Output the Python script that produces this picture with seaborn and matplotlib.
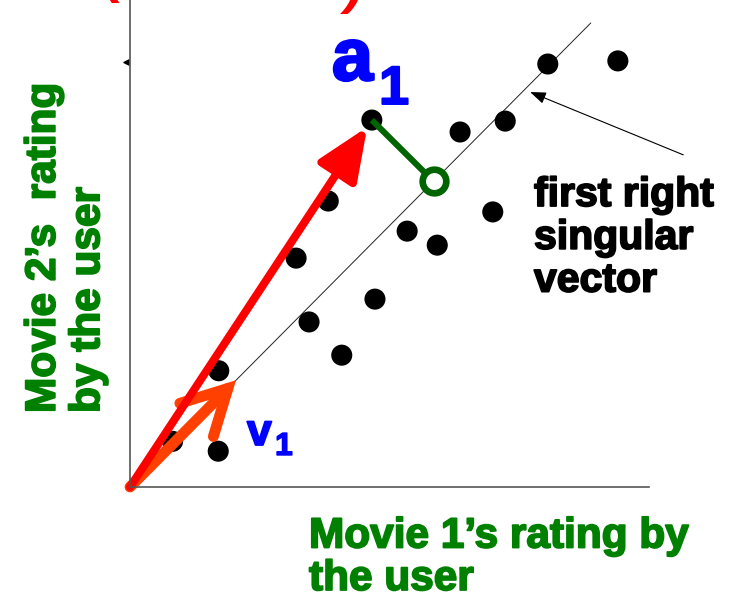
import numpy as np
import pandas as pd
import matplotlib
matplotlib.use("Agg")
import matplotlib.pyplot as plt
import matplotlib.patheffects as pe
from matplotlib.patches import FancyArrowPatch
import seaborn as sns

# Ratings given by users to movie 1 (x) and movie 2 (y)
movie1 = [8.05, 9.40, 4.66, 6.36, 7.23, 3.82, 6.99, 5.34, 5.92, 3.20,
          4.72, 3.45, 4.08, 1.71, 1.70, 0.82]
movie2 = [8.15, 8.21, 7.07, 6.84, 7.05, 5.51, 5.30, 4.93, 4.66, 4.41,
          3.62, 3.18, 2.54, 2.24, 0.69, 0.88]
edge_point = (-0.08, 8.19)

# Direction of the first right singular vector (degrees) and lengths
v1_angle = 45.2
v1_length = 2.9
line_length = 12.6
a1_index = 2          # the user whose rating vector is highlighted

sns.set_theme(style="white")
plt.rcParams["font.family"] = ["Liberation Sans", "DejaVu Sans"]

W, H = 729, 600
fig = plt.figure(figsize=(W / 100, H / 100), dpi=100)
ax = fig.add_axes([130 / W, (H - 487) / H, (649 - 130) / W, 487 / H])
ax.set_xlim(0, 10)
ax.set_ylim(0, 487 / 51.9)
ax.set_xticks([])
ax.set_yticks([])
for side in ("top", "right"):
    ax.spines[side].set_visible(False)
for side in ("left", "bottom"):
    ax.spines[side].set_color("#555555")
    ax.spines[side].set_linewidth(1.2)
    ax.spines[side].set_zorder(6)

df = pd.DataFrame({"movie1": movie1, "movie2": movie2})

u = np.array([np.cos(np.radians(v1_angle)), np.sin(np.radians(v1_angle))])

# singular-vector line through the origin
line_end = u * line_length
ax.plot([0, line_end[0]], [0, line_end[1]], color="#222222", lw=0.7,
        zorder=1, clip_on=False)

sns.scatterplot(data=df, x="movie1", y="movie2", ax=ax, color="black",
                s=230, edgecolor="none", zorder=2, legend=False)
ax.scatter([edge_point[0]], [edge_point[1]], s=14, color="black",
           marker="<", clip_on=False, zorder=2)
ax.set_xlabel("")
ax.set_ylabel("")

a1 = np.array([movie1[a1_index], movie2[a1_index]])
foot = u * (a1 @ u)

# projection of a1 onto the line
ax.plot([a1[0], foot[0]], [a1[1], foot[1]], color="#006400", lw=4.4,
        solid_capstyle="butt", zorder=3)
ax.plot([foot[0]], [foot[1]], marker="o", ms=17, mfc="white",
        mec="#006400", mew=4.8, zorder=4)

# v1 vector
v1 = u * v1_length
orange = FancyArrowPatch((0, 0), tuple(v1), arrowstyle="->,head_length=1.6,head_width=0.85",
                         mutation_scale=20, color="#ff4000", lw=7.8, shrinkA=0, shrinkB=0,
                         zorder=5, capstyle="round", joinstyle="miter", clip_on=False)
ax.add_patch(orange)

# a1 vector
red = FancyArrowPatch((0, 0), tuple(a1), arrowstyle="-|>,head_length=1.6,head_width=0.68",
                      mutation_scale=20, color="#ff0000", lw=5.8, shrinkA=0, shrinkB=6,
                      zorder=6, clip_on=False)
ax.add_patch(red)

# pointer to the singular-vector line
ax.annotate("", xy=(7.71, 7.61), xytext=(10.66, 6.40),
            arrowprops=dict(arrowstyle="-|>,head_length=0.8,head_width=0.3",
                            color="black", lw=0.8, shrinkA=0, shrinkB=0,
                            mutation_scale=12),
            annotation_clip=False)

green = "#008000"
blue = "#0000ff"


def fx(px):
    return px / W


def fy(py):
    return 1 - py / H


def heavy(color, w=1.3):
    return [pe.withStroke(linewidth=w, foreground=color)]


fig.text(fx(534), fy(176), "first right\nsingular\nvector", ha="left", va="top",
         fontsize=29.5, fontweight="bold", color="black", linespacing=1.16,
         path_effects=heavy("black", 1.3))

fig.text(fx(309), fy(590), "Movie 1\u2019s rating by\nthe user", ha="left",
         va="baseline", fontsize=30.5, fontweight="bold", color=green,
         linespacing=1.08, path_effects=heavy(green))

fig.text(fx(66), fy(413), "Movie 2\u2019s  rating\nby the user", ha="center",
         va="bottom", rotation=90, multialignment="left", fontsize=30.5,
         fontweight="bold", color=green, linespacing=1.14,
         path_effects=heavy(green))

fig.text(fx(332), fy(80), "a", ha="left", va="baseline", fontsize=53,
         fontweight="bold", color=blue, path_effects=heavy(blue, 2))
fig.text(fx(379), fy(104), "1", ha="left", va="baseline", fontsize=39,
         fontweight="bold", color=blue, path_effects=heavy(blue, 1.4))
fig.text(fx(247), fy(445), "v", ha="left", va="baseline", fontsize=32,
         fontweight="bold", color=blue, path_effects=heavy(blue, 1.3))
fig.text(fx(275), fy(455), "1", ha="left", va="baseline", fontsize=23,
         fontweight="bold", color=blue, path_effects=heavy(blue, 1.0))

# brackets of the heading above the plot
fig.text(fx(100), fy(-9), "(", ha="left", va="baseline", fontsize=40,
         fontweight="bold", color="#ff0000")
fig.text(fx(345), fy(2), ")", ha="left", va="baseline", fontsize=40,
         fontweight="bold", color="#ff0000", style="italic")

fig.savefig("out.png", dpi=100, facecolor="white")
